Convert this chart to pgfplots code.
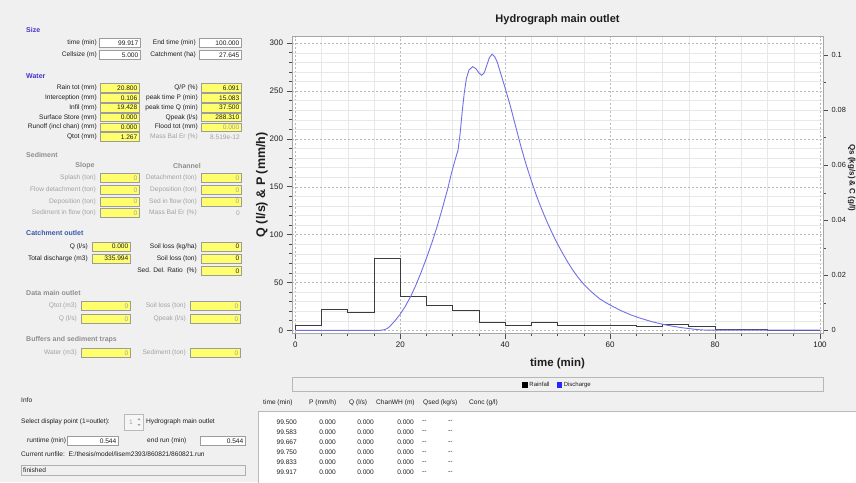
\documentclass[border=0pt]{standalone}
\usepackage{fontspec}
\setmainfont{Liberation Sans}
\usepackage{pgfplots}
\pgfplotsset{compat=1.18}
\definecolor{guibg}{HTML}{F0F0F0}
\definecolor{ybox}{HTML}{FFFF6E}
\definecolor{boxgray}{HTML}{9C9C9C}
\definecolor{labtext}{HTML}{1E1E1E}
\definecolor{graytext}{HTML}{A2A2A2}
\definecolor{hblue}{HTML}{4433CC}
\definecolor{cblue}{HTML}{3A56A8}
\definecolor{hgray}{HTML}{8E8E8E}
\definecolor{qline}{HTML}{7070E6}
\definecolor{pline}{HTML}{3C3C3C}
\newcommand{\gf}{\fontsize{6.6}{7.5}\selectfont}
\newcommand{\gfb}{\fontsize{7}{8}\selectfont\bfseries}
\newcommand{\tickf}{\fontsize{8}{9}\selectfont}
\newcommand{\lab}[4][labtext]{\node[anchor=east,inner sep=0pt,font=\gf,text=#1] at (#2,#3) {#4};}
\newcommand{\labw}[4][labtext]{\node[anchor=west,inner sep=0pt,font=\gf,text=#1] at (#2,#3) {#4};}
\newcommand{\yb}[5][labtext]{\draw[draw=boxgray,fill=ybox,line width=0.5pt] (#2,{#4-4.3}) rectangle (#3,{#4+4.3});
  \node[anchor=east,inner sep=0pt,font=\gf,text=#1] at ({#3-1.5},#4) {#5};}
\newcommand{\wb}[4]{\draw[draw=boxgray,fill=white,line width=0.5pt] (#1,{#3-4.6}) rectangle (#2,{#3+4.6});
  \node[anchor=east,inner sep=0pt,font=\gf,text=labtext] at ({#2-1.5},#3) {#4};}
\newcommand{\hd}[4]{\node[anchor=west,inner sep=0pt,font=\gfb,text=#1] at (#2,#3) {#4};}
\begin{document}
\begin{tikzpicture}
\begin{scope}[x=1pt,y=-1pt]
\fill[guibg] (0,0) rectangle (856,482);
\useasboundingbox (0,0) rectangle (856,482);
% ---------- Size ----------
\hd{hblue}{26}{30}{Size}
\lab{97}{43}{time (min)} \wb{99}{140}{43}{99.917}
\lab{196}{43}{End time (min)} \wb{199}{241}{43}{100.000}
\lab{97}{55}{Cellsize (m)} \wb{99}{140}{55}{5.000}
\lab{196}{55}{Catchment (ha)} \wb{199}{241}{55}{27.645}
% ---------- Water ----------
\hd{hblue}{26}{76.5}{Water}
\lab{97}{88}{Rain tot (mm)} \yb{100}{139}{88}{20.800}
\lab{97}{97.8}{Interception (mm)} \yb{100}{139}{97.8}{0.106}
\lab{97}{107.6}{Infil (mm)} \yb{100}{139}{107.6}{19.428}
\lab{97}{117.4}{Surface Store (mm)} \yb{100}{139}{117.4}{0.000}
\lab{97}{127.2}{Runoff (incl chan) (mm)} \yb{100}{139}{127.2}{0.000}
\lab{97}{137}{Qtot (mm)} \yb{100}{139}{137}{1.267}
\lab{198}{88}{Q/P (\%)} \yb{201}{241}{88}{6.091}
\lab{198}{97.8}{peak time P (min)} \yb{201}{241}{97.8}{15.083}
\lab{198}{107.6}{peak time Q (min)} \yb{201}{241}{107.6}{37.500}
\lab{198}{117.4}{Qpeak (l/s)} \yb{201}{241}{117.4}{288.310}
\lab{198}{127.2}{Flood tot (mm)} \yb[graytext]{201}{241}{127.2}{0.000}
\lab[graytext]{198}{137}{Mass Bal Er (\%)} \lab[graytext]{240}{137}{8.519e-12}
% ---------- Sediment ----------
\hd{hgray}{26}{155}{Sediment}
\node[inner sep=0pt,font=\gfb,text=hgray] at (85,166) {Slope};
\node[inner sep=0pt,font=\gfb,text=hgray] at (187,166) {Channel};
\lab[graytext]{96}{178}{Splash (ton)} \yb[graytext]{100}{139}{178}{0}
\lab[graytext]{96}{190}{Flow detachment (ton)} \yb[graytext]{100}{139}{190}{0}
\lab[graytext]{96}{201.5}{Deposition (ton)} \yb[graytext]{100}{139}{201.5}{0}
\lab[graytext]{96}{213}{Sediment in flow (ton)} \yb[graytext]{100}{139}{213}{0}
\lab[graytext]{197}{178}{Detachment (ton)} \yb[graytext]{201}{241}{178}{0}
\lab[graytext]{197}{190}{Deposition (ton)} \yb[graytext]{201}{241}{190}{0}
\lab[graytext]{197}{201.5}{Sed in flow (ton)} \yb[graytext]{201}{241}{201.5}{0}
\lab[graytext]{197}{213}{Mass Bal Er (\%)} \lab[graytext]{240}{213}{0}
% ---------- Catchment outlet ----------
\hd{cblue}{26}{233}{Catchment outlet}
\lab{88}{246.5}{Q (l/s)} \yb{92}{130}{246.5}{0.000}
\lab{88}{258.5}{Total discharge (m3)} \yb{92}{130}{258.5}{335.994}
\lab{197}{246.5}{Soil loss (kg/ha)} \yb{201}{241}{246.5}{0}
\lab{197}{258.5}{Soil loss (ton)} \yb{201}{241}{258.5}{0}
\lab{197}{271}{Sed. Del. Ratio\ \ (\%)} \yb{201}{241}{271}{0}
% ---------- Data main outlet ----------
\hd{hgray}{26}{293}{Data main outlet}
\lab[graytext]{77}{306}{Qtot (m3)} \yb[graytext]{81}{130}{306}{0}
\lab[graytext]{77}{319}{Q (l/s)} \yb[graytext]{81}{130}{319}{0}
\lab[graytext]{186}{306}{Soil loss (ton)} \yb[graytext]{190}{240}{306}{0}
\lab[graytext]{186}{319}{Qpeak (l/s)} \yb[graytext]{190}{240}{319}{0}
% ---------- Buffers ----------
\hd{hgray}{26}{340}{Buffers and sediment traps}
\lab[graytext]{77}{353}{Water (m3)} \yb[graytext]{81}{130}{353}{0}
\lab[graytext]{186}{353}{Sediment (ton)} \yb[graytext]{190}{240}{353}{0}
% ---------- Info ----------
\labw{21}{400}{Info}
\labw{21}{422}{Select display point (1=outlet):}
\draw[draw=boxgray!70,fill=guibg!60!white] (124,414) rectangle (143,430);
\node[inner sep=0pt,font=\gf,text=graytext] at (131,422) {1};
\fill[graytext] (137.5,420) -- (140.5,420) -- (139,418) -- cycle;
\fill[graytext] (137.5,424) -- (140.5,424) -- (139,426) -- cycle;
\labw{146}{422}{Hydrograph main outlet}
\labw{27}{441}{runtime (min)} \wb{67}{118}{441}{0.544}
\labw{147}{441}{end run (min)} \wb{200}{245}{441}{0.544}
\labw{21}{454}{Current runfile:\ \ E:/thesis/model/lisem2393/860821/860821.run}
\draw[draw=boxgray!80,fill=guibg] (21,465) rectangle (245,475);
\labw{23}{470}{finished}
% ---------- Table ----------
\labw{263}{403}{time (min)}
\labw{309}{403}{P (mm/h)}
\labw{349}{403}{Q (l/s)}
\labw{376}{403}{ChanWH (m)}
\labw{423}{403}{Qsed (kg/s)}
\labw{469}{403}{Conc (g/l)}
\draw[draw=boxgray!70,fill=white] (258,411) rectangle (857,483);
\foreach \t [count=\i] in {99.500,99.583,99.667,99.750,99.833,99.917}{
  \pgfmathsetmacro{\yy}{411.7+10.1*\i}
  \lab{297}{\yy}{\t} \lab{336}{\yy}{0.000} \lab{374}{\yy}{0.000} \lab{414}{\yy}{0.000}
  \labw{422}{\yy}{{-}{-}} \labw{448}{\yy}{{-}{-}}
}
% ---------- legend frame ----------
\draw[black!28,line width=0.6pt] (292,377) rectangle (823,391);
% ---------- right axis label ----------
\node[rotate=-90,inner sep=0pt,font=\fontsize{8}{9}\selectfont\bfseries,text=labtext] at (851.6,178) {Qs (kg/s) \& C (g/l)};
\end{scope}

\begin{axis}[
  at={(292pt,-333pt)}, anchor=south west,
  scale only axis, width=531pt, height=296.3pt,
  xmin=-0.63, xmax=100.57, ymin=-2.8, ymax=306.8,
  xtick={0,20,...,100}, ytick={0,50,...,300},
  minor x tick num=3, minor y tick num=4,
  xtick pos=bottom, ytick pos=left, tick align=outside,
  major tick length=5.5pt, minor tick length=3pt,
  grid=both,
  major grid style={black!28, dash pattern=on 2pt off 2pt, line width=0.5pt},
  minor grid style={black!9, line width=0.5pt},
  axis line style={black!35, line width=0.6pt},
  tick style={black!70, line width=0.6pt},
  axis background/.style={fill=white},
  ticklabel style={font=\tickf, text=labtext},
  /pgf/number format/assume math mode=true,
  title={Hydrograph main outlet},
  title style={at={(0.5,1)}, anchor=center, yshift=11.5pt, font=\fontsize{11}{13}\selectfont\bfseries, text=labtext},
  xlabel={time (min)},
  every axis x label/.style={at={(rel axis cs:0.5,0)}, anchor=center, yshift=-31pt, font=\fontsize{11.5}{13}\selectfont\bfseries, text=labtext},
  ylabel={Q (l/s) \& P (mm/h)},
  every axis y label/.style={at={(rel axis cs:0,0.5)}, anchor=center, xshift=-30pt, rotate=90, font=\fontsize{12.5}{14}\selectfont\bfseries, text=labtext},
  legend style={at={(0.5,-0.1755)}, anchor=center, draw=none, fill=none, font=\fontsize{6}{7}\selectfont, text=labtext, inner sep=1pt},
  legend columns=2,
  legend cell align=left,
  /tikz/every even column/.append style={column sep=5pt},
]
\addplot[const plot, pline, line width=0.9pt,
  legend image code/.code={\fill[black] (0pt,-2.2pt) rectangle (4.4pt,2.2pt);}]
 coordinates {(0,0) (0,5.2) (5,21.5) (10,18.8) (15,75) (20,35) (25,25.5) (30,21) (35,8.7) (40,5.3) (45,8.3) (50,5.5) (65,4.5) (70,6.2) (75,3.8) (80,1.4) (90,0.3) (100,0.3)};
\addlegendentry{Rainfall}
\addplot[qline, line width=0.9pt,
  legend image code/.code={\fill[blue!85!white] (0pt,-2.2pt) rectangle (4.4pt,2.2pt);}]
 coordinates {(0,0) (16,0) (16.6,0.3) (17,0.8) (17.5,1.8) (18,4) (18.5,7) (19,10) (19.5,13.5) (20,17)
 (21,25.5) (22,35.5) (23,47.5) (24,61) (25,75.5) (26,91) (27,108) (28,127) (29,147) (29.8,165)
 (30.4,177) (31,188) (31.4,205) (31.8,228) (32.2,248) (32.6,263) (33.1,272) (33.8,275.5) (34.4,273.5)
 (35,269) (35.5,266.5) (36,269) (36.5,277) (37,285) (37.5,288.5) (38,286) (38.5,280) (39,271)
 (39.5,262) (40,253) (41,234) (42,213) (43,192) (44,173) (45,156) (46,140) (47,126) (48,113)
 (49,101) (50,90) (51,80) (52,70.5) (53,62) (54,54.5) (55,48) (56,42.5) (57,37.5) (58,33)
 (59,29.5) (60,26.4) (62,20.7) (64,16) (66,12.2) (68,9) (70,6.3) (72,4.2) (74,2.5) (76,1.2)
 (77,0.6) (78,0.3) (80,0.2) (100,0.2)};
\addlegendentry{Discharge}
\end{axis}

\begin{axis}[
  at={(292pt,-333pt)}, anchor=south west,
  scale only axis, width=531pt, height=296.3pt,
  xmin=-0.63, xmax=100.57, ymin=-0.00098, ymax=0.10676,
  axis x line=none, axis y line*=right,
  ytick={0,0.02,0.04,0.06,0.08,0.1},
  yticklabels={0,0.02,0.04,0.06,0.08,0.1},
  minor ytick={0.01,0.03,0.05,0.07,0.09},
  tick align=outside,
  major tick length=5pt, minor tick length=3pt,
  axis line style={black!35, line width=0.6pt},
  tick style={black!70, line width=0.6pt},
  ticklabel style={font=\fontsize{7.4}{8.5}\selectfont, text=labtext},
]
\addplot[draw=none] coordinates {(0,0)};
\end{axis}
\end{tikzpicture}
\end{document}
